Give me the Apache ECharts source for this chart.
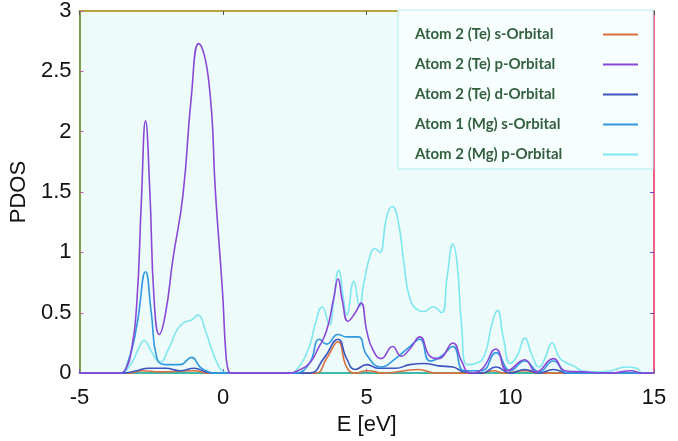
<!DOCTYPE html>
<html>
<head>
<meta charset="utf-8">
<script src="https://cdn.jsdelivr.net/npm/echarts@6/dist/echarts.min.js"></script>
<style>
  html, body { margin: 0; padding: 0; background: #ffffff; }
  #chart { width: 678px; height: 441px; }
</style>
</head>
<body>
<div id="chart"></div>
<script>
// Axis ticks
const xTicks = [-5, 0, 5, 10, 15];
const yTicks = [0, 0.5, 1, 1.5, 2, 2.5, 3];

// Atom 2 (Te) s-Orbital
const teSE = [-5, -3.3, -2.8, -2.2, -1.0, -0.5, 3.2, 3.6, 4.0, 4.3, 4.6, 5.0, 5.6, 6.8, 7.4, 9.0, 9.4, 9.8, 10.5, 11.0, 15];
const teSV = [0, 0, 0.02, 0.01, 0.02, 0, 0, 0.12, 0.26, 0.05, 0, 0.02, 0, 0.03, 0, 0, 0.02, 0, 0.02, 0, 0];

// Atom 2 (Te) p-Orbital
const tePE = [-5, -3.6, -3.4, -3.2, -3.0, -2.85, -2.7, -2.55, -2.4, -2.22, -2.0, -1.75, -1.4, -1.11, -0.85, -0.5, -0.26, -0.02, 0.1, 0.2, 0.3,
  2.3, 2.6, 3.0, 3.3, 3.6, 3.85, 4.0, 4.15, 4.35, 4.6, 4.8, 5.0, 5.2, 5.5, 5.9, 6.2, 6.5, 6.85, 7.2, 7.5, 8.0, 8.3, 8.6,
  9.0, 9.5, 9.9, 10.5, 10.9, 11.5, 11.9, 12.5, 13.5, 14.2, 14.6, 15];
const tePV = [0, 0, 0.03, 0.18, 0.6, 1.4, 2.09, 1.5, 0.6, 0.32, 0.5, 0.94, 1.47, 2.28, 2.73, 2.42, 1.47, 0.67, 0.15, 0.01, 0,
  0, 0.02, 0.08, 0.2, 0.35, 0.62, 0.78, 0.6, 0.43, 0.5, 0.58, 0.35, 0.2, 0.12, 0.22, 0.14, 0.2, 0.3, 0.14, 0.12, 0.25, 0.1, 0,
  0.03, 0.2, 0.02, 0.11, 0.01, 0.12, 0.02, 0.01, 0, 0.02, 0, 0];

// Atom 2 (Te) d-Orbital
const teDE = [-5, -3.5, -3.0, -2.6, -2.0, -1.5, -1.0, -0.6, -0.3, 3.0, 3.5, 4.0, 4.3, 4.6, 5.0, 5.4, 6.0, 6.5, 7.0, 7.5, 8.0, 8.4, 9.0, 9.5, 10.0, 10.5, 11.0, 11.5, 12.0, 15];
const teDV = [0, 0, 0.02, 0.04, 0.04, 0.02, 0.04, 0.01, 0, 0, 0.12, 0.28, 0.12, 0.03, 0.07, 0.04, 0.04, 0.07, 0.08, 0.06, 0.05, 0.01, 0, 0.05, 0, 0.03, 0, 0.03, 0, 0];

// Atom 1 (Mg) s-Orbital
const mgSE = [-5, -3.6, -3.3, -3.0, -2.7, -2.5, -2.3, -2.0, -1.5, -1.1, -0.8, -0.5, -0.3, 2.5, 3.0, 3.35, 3.6, 4.0, 4.3, 4.7, 5.0, 5.5, 6.0, 6.5, 6.85, 7.2, 7.6, 8.0, 8.4, 9.0, 9.5, 10.0, 10.5, 11.0, 11.5, 12.0, 15];
const mgSV = [0, 0, 0.1, 0.4, 0.84, 0.5, 0.12, 0.07, 0.07, 0.13, 0.05, 0.01, 0, 0, 0.08, 0.28, 0.24, 0.32, 0.3, 0.3, 0.15, 0.05, 0.12, 0.22, 0.28, 0.1, 0.14, 0.22, 0.02, 0.02, 0.17, 0.02, 0.1, 0.01, 0.1, 0, 0];

// Atom 2 (Mg) p-Orbital
const mgPE = [-5, -3.6, -3.2, -2.95, -2.75, -2.5, -2.2, -1.9, -1.6, -1.35, -1.1, -0.88, -0.6, -0.4, -0.2, 0.0, 0.2,
  2.3, 2.6, 3.0, 3.2, 3.45, 3.7, 3.85, 4.02, 4.2, 4.3, 4.55, 4.75, 4.9, 5.15, 5.3, 5.45, 5.7, 5.89, 6.1, 6.3, 6.5, 6.8, 7.0, 7.3, 7.6, 7.8, 8.0, 8.15, 8.3, 8.5,
  8.8, 9.1, 9.35, 9.55, 9.75, 10.0, 10.25, 10.5, 10.75, 11.0, 11.2, 11.45, 11.7, 11.9, 12.2, 12.5, 13.0, 13.5, 14.0, 14.4, 14.6, 15];
const mgPV = [0, 0, 0.08, 0.2, 0.27, 0.18, 0.09, 0.2, 0.36, 0.42, 0.44, 0.48, 0.34, 0.2, 0.08, 0.01, 0,
  0, 0.04, 0.22, 0.4, 0.55, 0.4, 0.6, 0.85, 0.6, 0.48, 0.76, 0.55, 0.75, 1.0, 1.03, 1.0, 1.3, 1.38, 1.25, 0.9, 0.62, 0.52, 0.51, 0.55, 0.5, 0.8, 1.07, 0.9, 0.4, 0.07,
  0.08, 0.15, 0.4, 0.52, 0.3, 0.08, 0.15, 0.29, 0.15, 0.05, 0.12, 0.25, 0.13, 0.09, 0.06, 0.02, 0.01, 0.02, 0.05, 0.04, 0, 0];

const FONT = "'Liberation Sans', Arial, sans-serif";

function pairs(xs, ys) {
  return xs.map((x, i) => [x, ys[i]]);
}

function lineSeries(name, xs, ys, color, z) {
  return {
    name: name,
    type: 'line',
    data: pairs(xs, ys),
    symbol: 'none',
    smooth: 0.5,
    lineStyle: { color: color, width: 1.6 },
    itemStyle: { color: color },
    z: z
  };
}

const chart = echarts.init(document.getElementById('chart'));

chart.setOption({
  backgroundColor: '#ffffff',
  animation: false,
  grid: {
    left: 76, right: 24, top: 11, bottom: 58,
    show: true,
    backgroundColor: '#edfbfb',
    borderWidth: 0
  },
  legend: {
    orient: 'vertical',
    left: 398,
    top: 10,
    width: 257,
    align: 'right',
    icon: 'rect',
    padding: [16, 15, 6, 17],
    itemWidth: 35,
    itemHeight: 2,
    itemGap: 13,
    backgroundColor: '#f6fefe',
    borderColor: '#b5eef2',
    borderWidth: 1,
    formatter: (name) => '{a|' + name + '}',
    textStyle: {
      color: '#35603f',
      fontFamily: 'Lato, sans-serif',
      fontWeight: 'bold',
      fontSize: 15,
      width: 183,
      lineHeight: 17,
      rich: {
        a: {
          align: 'left',
          color: '#35603f',
          fontFamily: 'Lato, sans-serif',
          fontWeight: 'bold',
          fontSize: 15,
          lineHeight: 17
        }
      }
    },
    data: ['Atom 2 (Te) s-Orbital', 'Atom 2 (Te) p-Orbital', 'Atom 2 (Te) d-Orbital', 'Atom 1 (Mg) s-Orbital', 'Atom 2 (Mg) p-Orbital']
  },
  xAxis: [
    {
      type: 'value',
      min: -5, max: 15, interval: 5,
      name: 'E [eV]',
      nameLocation: 'middle',
      nameGap: 36,
      nameTextStyle: { color: '#111', fontSize: 22, fontFamily: FONT },
      axisLine: { show: true, onZero: false, lineStyle: { color: '#3fb8a8', width: 2 } },
      axisTick: { show: true, inside: true, length: 4, lineStyle: { color: '#7a5ab0' } },
      axisLabel: { color: '#111', fontSize: 22, fontFamily: FONT, margin: 14 },
      splitLine: { show: false }
    },
    {
      type: 'value',
      position: 'top',
      min: -5, max: 15, interval: 5,
      axisLine: { show: true, onZero: false, lineStyle: { color: '#b8a440', width: 2 } },
      axisTick: { show: true, inside: true, length: 4, lineStyle: { color: '#555' } },
      axisLabel: { show: false },
      splitLine: { show: false }
    }
  ],
  yAxis: [
    {
      type: 'value',
      min: 0, max: 3, interval: 0.5,
      name: 'PDOS',
      nameLocation: 'middle',
      nameGap: 30,
      nameTextStyle: { color: '#111', fontSize: 22, fontFamily: FONT },
      axisLine: { show: true, onZero: false, lineStyle: { color: '#7aa048', width: 2 } },
      axisTick: { show: true, inside: true, length: 4, lineStyle: { color: '#c05a9a' } },
      axisLabel: { color: '#111', fontSize: 22, fontFamily: FONT, margin: 8 },
      splitLine: { show: false }
    },
    {
      type: 'value',
      position: 'right',
      min: 0, max: 3, interval: 0.5,
      axisLine: { show: true, onZero: false, lineStyle: { color: '#ee6286', width: 2 } },
      axisTick: { show: true, inside: true, length: 4, lineStyle: { color: '#6a4ac8' } },
      axisLabel: { show: false },
      splitLine: { show: false }
    }
  ],
  series: [
    lineSeries('Atom 2 (Te) s-Orbital', teSE, teSV, '#d8703c', 3),
    lineSeries('Atom 2 (Te) p-Orbital', tePE, tePV, '#8a48d8', 5),
    lineSeries('Atom 2 (Te) d-Orbital', teDE, teDV, '#3d55c0', 4),
    lineSeries('Atom 1 (Mg) s-Orbital', mgSE, mgSV, '#2f98e0', 4),
    lineSeries('Atom 2 (Mg) p-Orbital', mgPE, mgPV, '#7fe6f0', 2)
  ]
});
</script>
</body>
</html>
